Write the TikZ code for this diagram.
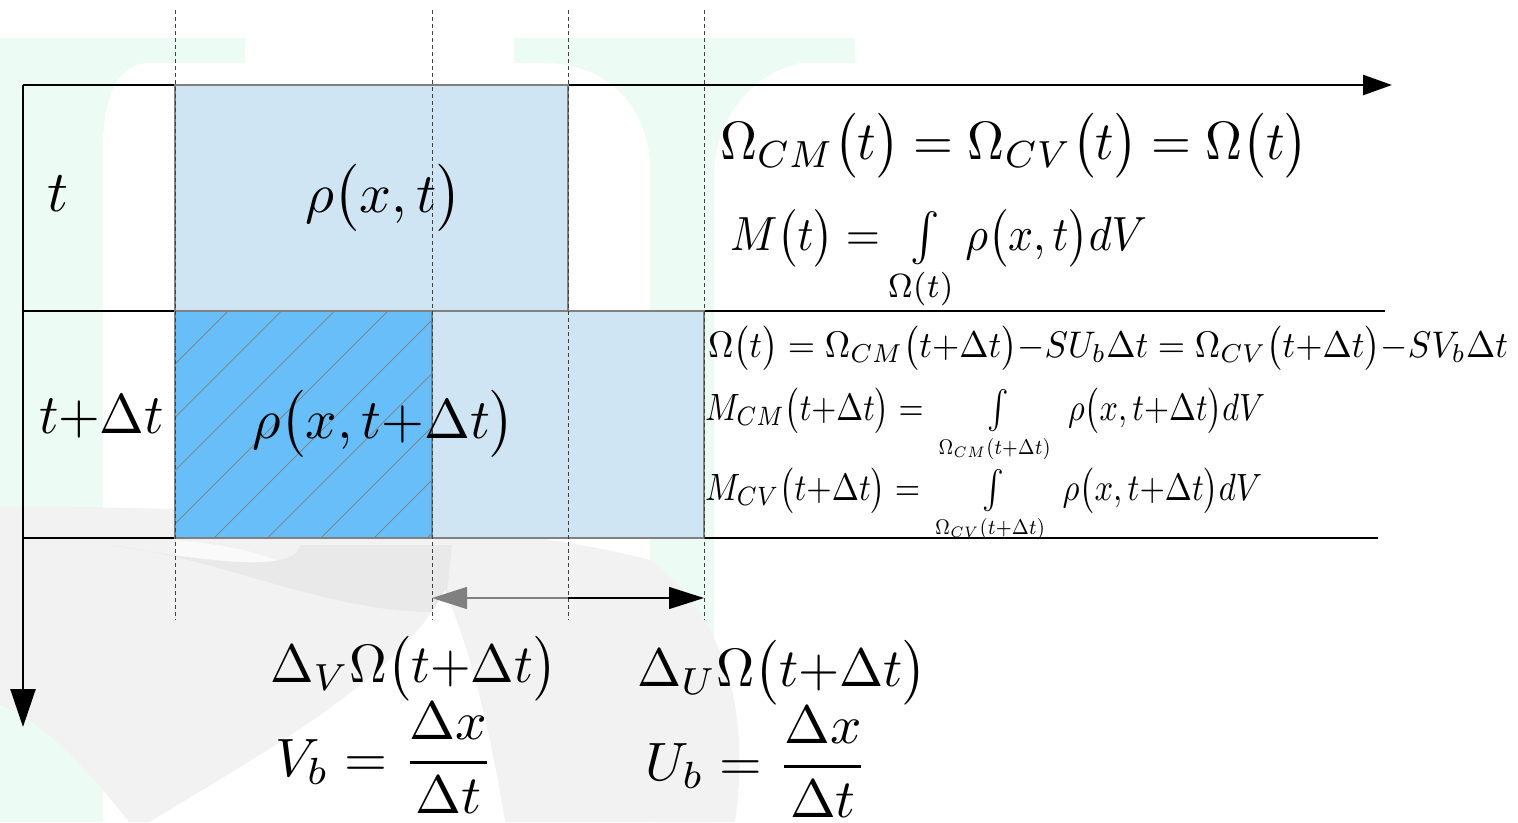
\documentclass[tikz,border=0pt]{standalone}
\usepackage{amsmath}
\usepackage{graphicx}
\usetikzlibrary{arrows.meta}
\definecolor{lightblue}{HTML}{CFE5F3}
\definecolor{darkblue}{HTML}{67BEF8}
\definecolor{mint}{HTML}{ECFBF3}
\definecolor{wmgrey}{HTML}{F2F2F2}
\definecolor{wmgreyb}{HTML}{E9E9EA}
\definecolor{rectedge}{HTML}{808080}
\newcommand{\fitw}[3]{\resizebox{#1pt}{#2\height}{$#3$}}
\newcommand{\intlim}[1]{\scalebox{0.8}{$\scriptstyle #1$}}
\begin{document}
\begin{tikzpicture}[x=1pt,y=-1pt,
  axis/.style={line width=2.5pt, black},
  rowline/.style={line width=2.5pt, black},
  guide/.style={line width=0.9pt, dash pattern=on 4pt off 3pt, black!75},
  cell/.style={draw=rectedge, line width=2pt},
  hatchline/.style={line width=0.7pt, black!50},
  eq/.style={inner sep=0pt, outer sep=0pt, anchor=base west},
]
\useasboundingbox (0,0) rectangle (1518,822);
% ---------- watermark ----------
\fill[mint] (0,38) -- (245,38) -- (245,63) -- (150,63) .. controls (115,63) and (103,100) .. (103,150) -- (103,822) -- (0,822) -- cycle;
\fill[mint] (514,38) -- (855,38) -- (855,63) -- (800,63) .. controls (750,75) and (714,120) .. (714,175) -- (714,822) -- (650,822) -- (650,170) .. controls (650,100) and (600,63) .. (545,63) -- (514,63) -- cycle;
\fill[wmgrey] (0,507) .. controls (200,505) and (500,520) .. (650,560) .. controls (730,620) and (750,720) .. (735,822) -- (129,822) .. controls (80,760) and (40,720) .. (0,705) -- cycle;
\fill[white!60!wmgrey] (175,540) .. controls (230,545) and (280,555) .. (300,575) .. controls (260,580) and (210,565) .. (175,555) -- cycle;
\fill[wmgreyb] (110,545) .. controls (230,560) and (330,615) .. (445,612) -- (452,545) -- (300,545) .. controls (295,575) and (200,560) .. cycle;
\fill[white] (445,590) .. controls (400,680) and (250,760) .. (150,822) -- (505,822) .. controls (485,700) and (465,640) .. (445,590) -- cycle;
% ---------- coordinates ----------
\coordinate (O) at (23,85);
\coordinate (xend) at (1392,85);
\coordinate (yend) at (23,727);
\coordinate (r1a) at (23,311);
\coordinate (r1b) at (1385,311);
\coordinate (r2a) at (23,538);
\coordinate (r2b) at (1378,538);
% ---------- axes and row lines ----------
\draw[axis, -{Triangle[length=29pt,width=20pt]}] (O) -- (xend);
\draw[axis, -{Triangle[length=38pt,width=25pt]}] (O) -- (yend);
\draw[rowline] (r1a) -- (r1b);
\draw[rowline] (r2a) -- (r2b);
% ---------- cells ----------
\fill[lightblue] (175,85) rectangle (568,311);
\fill[darkblue] (175,311) rectangle (432,538);
\fill[lightblue] (432,311) rectangle (704,538);
\begin{scope}
  \clip (175,311) rectangle (432,538);
  \foreach \k in {-1,...,8} \draw[hatchline] ({228+53.3*\k},311) -- ({1+53.3*\k},538);
\end{scope}
\draw[cell] (175,85) rectangle (568,311);
\draw[cell] (175,311) rectangle (432,538);
\draw[cell] (432,311) rectangle (704,538);
% ---------- guides ----------
\foreach \gx/\nm in {175/ga,432/gb,568/gc,704/gd} {
  \coordinate (\nm top) at (\gx,10);
  \coordinate (\nm bot) at (\gx,620);
  \draw[guide] (\nm top) -- (\nm bot);
}
% ---------- displacement arrows ----------
\coordinate (amid) at (568,598);
\coordinate (aleft) at (432,598);
\coordinate (aright) at (704,598);
\draw[rectedge, line width=1.3pt, -{Triangle[length=35pt,width=22pt]}] (amid) -- (aleft);
\draw[black, line width=1.3pt, -{Triangle[length=35pt,width=22pt]}] (amid) -- (aright);
% ---------- texts ----------
\node[eq] (tlab) at (47,211) {\scalebox{5.8}{$t$}};
\node[eq] (tdtlab) at (39,433) {\fitw{125}{5.6}{t{+}\Delta t}};
\node[eq] (rho1) at (305,212) {\fitw{157}{5.6}{\rho\bigl(x,t\bigr)}};
\node[eq] (rho2) at (252,438) {\fitw{263}{5.6}{\rho\bigl(x,t{+}\Delta t\bigr)}};
\node[eq] (omeq) at (720,159) {\fitw{588}{5.4}{\Omega_{CM}\bigl(t\bigr)=\Omega_{CV}\bigl(t\bigr)=\Omega\bigl(t\bigr)}};
\node[eq] (meq) at (730,250) {\fitw{417}{4.8}{M\bigl(t\bigr)=\int\limits_{\Omega(t)}\rho\bigl(x,t\bigr)dV}};
\node[eq] (omeq2) at (708,357) {\fitw{800}{3.7}{\Omega\bigl(t\bigr)=\Omega_{CM}\bigl(t{+}\Delta t\bigr){-}SU_b\Delta t=\Omega_{CV}\bigl(t{+}\Delta t\bigr){-}SV_b\Delta t}};
\node[eq] (mcm) at (705,420) {\fitw{560}{3.8}{M_{CM}\bigl(t{+}\Delta t\bigr)=\;\int\limits_{\intlim{\Omega_{CM}(t+\Delta t)}}\;\rho\bigl(x,t{+}\Delta t\bigr)dV}};
\node[eq] (mcv) at (705,500) {\fitw{557}{3.8}{M_{CV}\bigl(t{+}\Delta t\bigr)=\;\int\limits_{\intlim{\Omega_{CV}(t+\Delta t)}}\;\rho\bigl(x,t{+}\Delta t\bigr)dV}};
\node[eq] (dv) at (270,682) {\fitw{287}{5.4}{\Delta_V\Omega\bigl(t{+}\Delta t\bigr)}};
\node[eq] (du) at (637,686) {\fitw{290}{5.4}{\Delta_U\Omega\bigl(t{+}\Delta t\bigr)}};
\node[eq] (vb) at (275,776) {\fitw{219}{5.4}{V_b=\dfrac{\Delta x}{\Delta t}}};
\node[eq] (ub) at (645,780) {\fitw{223}{5.4}{U_b=\dfrac{\Delta x}{\Delta t}}};
\end{tikzpicture}
\end{document}
